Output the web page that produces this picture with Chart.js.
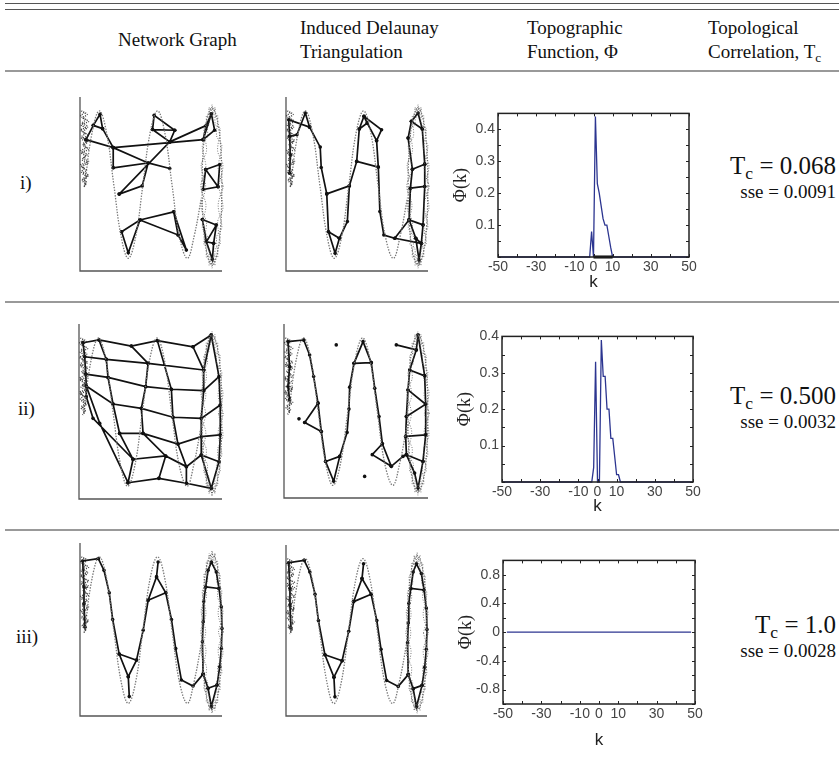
<!DOCTYPE html>
<html>
<head>
<meta charset="utf-8">
<script src="https://cdn.jsdelivr.net/npm/chart.js@4.4.1/dist/chart.umd.min.js"></script>
<style>
body { margin: 0; background: #fff; }
#page { position: relative; width: 839px; height: 757px; overflow: hidden;
        font-family: "Liberation Serif", "Times New Roman", serif; color: #111; }
.rule { position: absolute; left: 5px; right: 0; }
.t { position: absolute; font-size: 19px; line-height: 1; white-space: nowrap; }
.tc { position: absolute; right: 3px; line-height: 1; white-space: nowrap; text-align: right; }
.tc sub, .t sub { font-size: 70%; vertical-align: baseline; position: relative; top: 0.3em; }
canvas { position: absolute; }
</style>
</head>
<body>
<div id="page">
  <div class="rule" style="top:3px;height:1px;background:#555"></div>
  <div class="rule" style="top:9px;height:1px;background:#555"></div>
  <div class="rule" style="top:70px;height:2px;background:#999"></div>
  <div class="rule" style="top:301px;height:2px;background:#999"></div>
  <div class="rule" style="top:529px;height:2px;background:#999"></div>

  <div class="t" style="left:118px;top:30px">Network Graph</div>
  <div class="t" style="left:300px;top:18px">Induced Delaunay</div>
  <div class="t" style="left:300px;top:42px">Triangulation</div>
  <div class="t" style="left:527px;top:18px">Topographic</div>
  <div class="t" style="left:527px;top:42px">Function, Φ</div>
  <div class="t" style="left:708px;top:18px">Topological</div>
  <div class="t" style="left:708px;top:42px">Correlation, T<sub>c</sub></div>

  <div class="t" style="left:20px;top:173px">i)</div>
  <div class="t" style="left:18px;top:399px">ii)</div>
  <div class="t" style="left:16px;top:627px">iii)</div>

  <div class="tc" style="top:153px;font-size:25px">T<sub>c</sub> = 0.068</div>
  <div class="tc" style="top:182px;font-size:19px">sse = 0.0091</div>
  <div class="tc" style="top:383px;font-size:25px">T<sub>c</sub> = 0.500</div>
  <div class="tc" style="top:412px;font-size:19px">sse = 0.0032</div>
  <div class="tc" style="top:612px;font-size:25px">T<sub>c</sub> = 1.0</div>
  <div class="tc" style="top:641px;font-size:19px">sse = 0.0028</div>

  <canvas id="ng1"></canvas>
  <canvas id="dt1"></canvas>
  <canvas id="ng2"></canvas>
  <canvas id="dt2"></canvas>
  <canvas id="ng3"></canvas>
  <canvas id="dt3"></canvas>
  <canvas id="phi1"></canvas>
  <canvas id="phi2"></canvas>
  <canvas id="phi3"></canvas>
</div>

<script>
// topographic function Phi(k)
const k1 = [-50, -2, -1, 0, 1, 2, 3, 4, 5, 6, 7, 8, 9, 10, 50];
const phi1 = [0, 0, 0.08, 0, 0.44, 0.23, 0.2, 0.16, 0.12, 0.1, 0.1, 0.065, 0.03, 0, 0];
const base1K = [0, 10];
const base1 = [0, 0];
const k2 = [-50, -3, -2, -1, 0, 1, 2, 3, 4, 5, 6, 7, 8, 9, 10, 11, 12, 50];
const phi2 = [0, 0, 0.04, 0.33, 0, 0, 0.39, 0.29, 0.29, 0.2, 0.2, 0.12, 0.12, 0.07, 0.02, 0.02, 0, 0];
const k3 = [-48, 48];
const phi3 = [0, 0];

const kLabels = [-50, -30, -10, 0, 10, 30, 50];
const yLabels12 = [0.1, 0.2, 0.3, 0.4];
const yLabels3 = [-0.8, -0.4, 0, 0.4, 0.8];

// input data manifold (same in every panel), unit square 0..100
const sineTrack = [[3.3,49.6],[8.5,79.5],[13.6,92],[18.7,79.5],[23.8,49.6],[29,19.7],[34,7.3],[39.2,19.7],
  [44.3,49.6],[49.4,79.5],[54.6,92],[59.7,79.5],[64.8,49.6],[70,19.7],[75.6,7.3],[80.3,19.7],[85.5,42]];
const loopTrack = [[100,48.6],[99.1,71.1],[96.5,87.6],[93,93.6],[89.5,87.6],[86.9,71.1],[86,48.6],
  [86.9,26.1],[89.5,9.6],[93,3.6],[96.5,9.6],[99.1,26.1],[100,48.6]];
const leftNoiseA = [[1,92],[5,90],[2,88],[6,86],[0.8,84],[4.5,82],[2,80],[6,78],[1,76],[5,74],[2.5,72],[6,70],
  [1,68],[4,66],[1.5,64],[5.5,62],[1,60],[4.5,58],[2,56],[5,54],[1.5,52],[4,50],[2.5,48]];
const leftNoiseB = [[3,91],[0.5,89],[4,87],[1.5,85],[5.5,83],[0.5,81],[3.5,79],[1,77],[6,75],[2,73],[4.5,71],
  [0.5,69],[5,67],[2.5,65],[6,63],[0.5,61],[3,59],[1,57],[6,55],[2,53],[4.5,51],[3,49]];
const rightNoiseA = [[101,48.6],[97.3,59.2],[99.9,72.1],[96.2,77.6],[97,89.3],[94.2,88.2],[93,95.6],[91.8,88.2],
  [89,89.3],[89.8,77.6],[86.1,72.1],[88.7,59.2],[85,48.6],[88.7,38],[86.1,25.1],[89.8,19.6],[89,7.9],[91.8,9],
  [93,1.6],[94.2,9],[97,7.9],[96.2,19.6],[99.9,25.1],[97.3,38],[101,48.6]];
const rightNoiseB = [[97.5,48.6],[100.7,60.8],[96.9,69.1],[98.7,81.8],[95.3,84.1],[95.1,94],[93,89.6],[90.9,94],
  [90.7,84.1],[87.3,81.8],[89.1,69.1],[85.3,60.8],[88.5,48.6],[85.3,36.4],[89.1,28.1],[87.3,15.4],[90.7,13.1],
  [90.9,3.2],[93,7.6],[95.1,3.2],[95.3,13.1],[98.7,15.4],[96.9,28.1],[100.7,36.4],[97.5,48.6]];

// network edges, as polylines through the nodes
const ng1Paths = [
  [[4.2,75.5],[9.4,83.7],[14.1,90.1],[15.9,81.8],[9.4,83.7]],
  [[4.2,75.5],[23.4,70.9],[15.9,81.8]],
  [[23.4,70.9],[86.7,75.5],[89,83.7],[92.5,90.4],[86.7,75.5]],
  [[92.5,90.4],[94.8,80.9],[86.7,75.5]],
  [[23.4,59.3],[23.4,70.9],[48,62.1],[63.2,58.9]],
  [[23.4,59.3],[48,62.1],[43.8,48.9],[27.6,44.2]],
  [[27.6,44.2],[63.2,74.2],[66.7,80.9],[52.2,89.5],[51.1,81.3],[63.2,74.2]],
  [[51.1,81.3],[66.7,80.9]],
  [[63.2,74.2],[89,83.7]],
  [[88.5,58.3],[98.4,61.2],[97.2,48.4],[86.7,46.8],[88.5,58.3],[97.2,48.4]],
  [[86.2,29.6],[96,26.4],[94.1,15.9],[89,16.8],[86.2,29.6]],
  [[96,26.4],[89,16.8],[93.2,6.7],[94.1,15.9]],
  [[29.3,22.6],[42.2,29.3],[34,10.5],[29.3,22.6]],
  [[42.2,29.3],[66,34],[69.1,20.7],[42.2,29.3]],
  [[66,34],[74.9,12],[69.1,20.7]]
];
const dt1Paths = [
  [[2.6,56.2],[3,66.8],[2.6,77.4],[1.9,86.9],[16.6,82.7]],
  [[2.6,77.4],[7.7,78.3],[13.6,90.8],[16.6,82.7]],
  [[16.6,82.7],[24.1,71.2],[24.8,59.5],[28.7,44.3],[29.9,22.6],[34.6,10.2],[37.6,18.8],[43.2,28.4],
   [44.6,48.9],[49.8,63],[51.6,81.6],[54.9,88.9],[67.3,81.2],[63.8,74.9],[65,59.7],[66.1,34.2],
   [68.9,20.7],[76.6,18.8],[86.7,29.4]],
  [[51.6,81.6],[57.2,85],[63.8,74.9]],
  [[54.9,88.9],[57.2,85]],
  [[28.7,44.3],[44.6,48.9]],
  [[29.9,22.6],[37.6,18.8]],
  [[49.8,63],[65,59.7]],
  [[86,76.4],[89,58.5],[87.6,47.6],[86.7,29.4],[91.4,18.8],[93.7,6.3],[95.3,15.9],[96.5,26.5],
   [97.7,48.6],[97.7,61.4],[96,81.6],[93,90.8],[88.3,86],[86,76.4]],
  [[88.3,86],[96,81.6]],
  [[89,58.5],[97.7,61.4]],
  [[87.6,47.6],[97.7,48.6]],
  [[86.7,29.4],[96.5,26.5]],
  [[91.4,18.8],[95.3,15.9]],
  [[76.6,18.8],[95.3,15.9]]
];
const ng2Paths = [
  [[2.8,89.3],[14,90.9],[36.6,87.4],[54.8,90.5],[79.7,87],[92.5,93.7]],
  [[4,81.3],[19.1,79.8],[48.3,77.5],[87.2,73.7]],
  [[4.7,71.4],[20.3,69.5],[46.6,64.2],[64.6,62.7],[87.2,61.9],[97.9,69.9]],
  [[5.1,64.6],[23.8,54.3],[43.6,51.8],[65.7,46.7],[85.5,46.1],[98.8,53.7]],
  [[28.4,37.5],[44.8,37.5],[69.2,31.4],[85.5,35.6],[98.8,36.6]],
  [[37.8,22.7],[60.6,24.6],[75.1,18.5],[85.5,25.1],[97.9,21.3]],
  [[34.3,9.3],[55.9,11.8],[75.1,9],[92.5,6.1]],
  [[14,90.9],[19.1,79.8],[20.3,69.5],[23.8,54.3],[28.4,37.5],[37.8,22.7],[34.3,9.3]],
  [[36.6,87.4],[48.3,77.5],[46.6,64.2],[43.6,51.8],[44.8,37.5],[60.6,24.6],[55.9,11.8]],
  [[54.8,90.5],[64.6,62.7],[65.7,46.7],[69.2,31.4],[75.1,18.5],[75.1,9]],
  [[79.7,87],[87.2,73.7],[87.2,61.9],[85.5,46.1],[85.5,35.6],[85.5,25.1],[92.5,6.1]],
  [[92.5,93.7],[97.9,69.9],[98.8,53.7],[98.8,36.6],[97.9,21.3],[92.5,6.1]],
  [[87.2,73.7],[92.5,93.7]],
  [[2.8,89.3],[4,81.3],[4.7,71.4],[5.1,64.6],[5.1,58.5],[9.8,46.1],[37.8,22.7]],
  [[5.1,64.6],[14.5,43.2],[34.3,9.3]]
];
const dt2Paths = [
  [[3.9,56.4],[2.8,64.1],[3.9,75.5],[2.8,89.9],[13.7,90.8]],
  [[13.7,90.8],[17.8,82.2],[20.6,69.8],[23.6,54.5],[25.9,38.2],[28.9,21],[34.5,9.6],[38.7,23.9],
   [43.8,37.7],[45.1,51.1],[45.6,63.7],[48.6,77.4],[54.9,89.9],[60.6,77.8],[63,63.1],[66,46.8],
   [68.3,31.2],[74.5,18.2],[82.6,23.9],[85,24.9]],
  [[14.4,43.4],[23.6,54.5]],
  [[14.4,43.4],[25.9,38.2]],
  [[28.9,21],[38.7,23.9]],
  [[48.6,77.4],[60.6,77.8]],
  [[68.3,31.2],[61.3,24.9],[74.5,18.2]],
  [[78,88],[91.9,85.1]],
  [[93.1,93.7],[91.9,85.1],[87.3,73.6],[86.1,62.1],[85,46.8],[84.5,35.4],[85,24.9],[90.7,14.3],
   [93.1,5.7],[96.5,21],[98.4,36.3],[98.4,53.9],[97.7,70.2],[93.1,93.7]],
  [[87.3,73.6],[97.7,70.2]],
  [[86.1,62.1],[98.4,53.9],[85,46.8]],
  [[84.5,35.4],[98.4,36.3]],
  [[85,24.9],[96.5,21]],
  [[10.4,45.5]],
  [[36.3,88]],
  [[56,12.4]]
];
const ng3Paths = [
  [[3.5,51.5],[2.8,65],[2.8,74.6],[1.9,89.6],[12.9,91]],
  [[12.9,91],[16.9,84.2],[20.6,71.2],[23,55.8],[27.6,35.8],[34,22.7],[34.7,11.2]],
  [[27.6,35.8],[39.8,32.3],[34,22.7]],
  [[39.8,32.3],[44.5,49.6],[48,66.9],[53.9,80.4],[55,89]],
  [[48,66.9],[60.4,71.2]],
  [[53.9,80.4],[60.4,71.2],[64.4,55.8],[67.4,39],[71.4,20.8],[79.6,17.3],[86.7,24.2]],
  [[86.7,24.2],[86.2,42.9],[86.7,54.4],[87.1,66],[88.5,74.6],[90.2,84.2],[92.5,89],[96,83.3],
   [97.9,73.7],[99.5,63.1],[100,50.6],[99.5,39],[98.4,28.5],[96.5,17.9],[92.5,5.4],[90.2,16],[86.7,24.2]],
  [[88.5,74.6],[97.9,73.7]],
  [[90.2,16],[96.5,17.9]]
];
const dt3Paths = ng3Paths;

function pathData(paths) {
  const out = [];
  paths.forEach((p, i) => {
    if (i) out.push({x: null, y: null});
    p.forEach(pt => out.push({x: pt[0], y: pt[1]}));
  });
  return out;
}

function place(canvas, left, top, w, h) {
  canvas.width = w;
  canvas.height = h;
  canvas.style.left = left + 'px';
  canvas.style.top = top + 'px';
  canvas.style.width = w + 'px';
  canvas.style.height = h + 'px';
}

const cornerAxes = {
  id: 'cornerAxes',
  beforeDatasetsDraw(chart) {
    const {ctx, chartArea: a} = chart;
    ctx.save();
    ctx.strokeStyle = '#555';
    ctx.lineWidth = 1.3;
    ctx.beginPath();
    ctx.moveTo(a.left, a.top);
    ctx.lineTo(a.left, a.bottom);
    ctx.lineTo(a.right, a.bottom);
    ctx.stroke();
    ctx.restore();
  }
};

function netChart(id, L, T, R, B, paths) {
  const cv = document.getElementById(id);
  place(cv, L - 4, T - 6, R - L + 12, B - T + 10);
  new Chart(cv, {
    type: 'scatter',
    data: {
      datasets: [
        { data: pathData([leftNoiseA, leftNoiseB]), showLine: true,
          borderColor: 'rgba(40,40,40,0.9)', borderWidth: 1.4, borderDash: [1, 1.1],
          pointRadius: 0, tension: 0.3, clip: false },
        { data: pathData([rightNoiseA, rightNoiseB]), showLine: true,
          borderColor: 'rgba(80,80,80,0.75)', borderWidth: 1, borderDash: [1, 1.6],
          pointRadius: 0, tension: 0.3, clip: false },
        { data: pathData([sineTrack, loopTrack]), showLine: true, borderColor: '#777',
          borderWidth: 1.3, borderDash: [1.4, 1.4], pointRadius: 0, tension: 0.4, clip: false },
        { data: pathData(paths), showLine: true, borderColor: '#111', borderWidth: 1.7,
          pointRadius: 1.8, pointBackgroundColor: '#111', pointBorderWidth: 0, clip: false }
      ]
    },
    options: {
      responsive: false, animation: false, events: [],
      layout: { padding: { left: 4, top: 6, right: 8, bottom: 4 } },
      plugins: { legend: { display: false }, tooltip: { enabled: false } },
      scales: {
        x: { type: 'linear', min: 0, max: 100, display: false },
        y: { type: 'linear', min: 0, max: 100, display: false }
      }
    },
    plugins: [cornerAxes]
  });
}

const frameTicks = {
  id: 'frameTicks',
  afterDatasetsDraw(chart) {
    const {ctx, chartArea: a} = chart;
    const xs = chart.scales.x, ys = chart.scales.y;
    ctx.save();
    ctx.strokeStyle = '#222';
    ctx.lineWidth = 1;
    ctx.beginPath();
    xs.ticks.forEach(t => {
      const px = Math.round(xs.getPixelForValue(t.value)) + 0.5;
      ctx.moveTo(px, a.bottom); ctx.lineTo(px, a.bottom - 3);
      ctx.moveTo(px, a.top); ctx.lineTo(px, a.top + 3);
    });
    ys.ticks.forEach(t => {
      const py = Math.round(ys.getPixelForValue(t.value)) + 0.5;
      ctx.moveTo(a.left, py); ctx.lineTo(a.left + 3, py);
      ctx.moveTo(a.right, py); ctx.lineTo(a.right - 3, py);
    });
    ctx.stroke();
    ctx.lineWidth = 1.5;
    ctx.strokeRect(a.left, a.top, a.right - a.left, a.bottom - a.top);
    ctx.restore();
  }
};

function near(list, v) {
  return list.some(u => Math.abs(u - v) < 1e-6);
}

function phiChart(id, box, plot, series, yMin, yMax, yStep, yShown) {
  const cv = document.getElementById(id);
  place(cv, box.left, box.top, box.w, box.h);
  new Chart(cv, {
    type: 'scatter',
    data: {
      datasets: series.map(s => ({
        data: s.k.map((v, i) => ({x: v, y: s.v[i]})),
        showLine: true, borderColor: s.color, borderWidth: s.width,
        pointRadius: 0, tension: 0, clip: false
      }))
    },
    options: {
      responsive: false, animation: false, events: [],
      layout: { padding: { left: 0, top: plot.top - box.top, right: box.left + box.w - plot.right, bottom: 0 } },
      plugins: { legend: { display: false }, tooltip: { enabled: false } },
      scales: {
        x: {
          type: 'linear', min: -50, max: 50,
          grid: { display: false, drawTicks: false }, border: { display: false },
          afterFit: sc => { sc.height = box.top + box.h - plot.bottom; },
          ticks: { stepSize: 10, padding: 2, maxRotation: 0, autoSkip: false, color: '#444',
                   font: { family: 'Liberation Sans', size: 14 },
                   callback: v => near(kLabels, v) ? String(v) : '' },
          title: { display: true, text: 'k', color: '#222', padding: { top: 0, bottom: 0 },
                   font: { family: 'Liberation Sans', size: 17 } }
        },
        y: {
          type: 'linear', min: yMin, max: yMax,
          grid: { display: false, drawTicks: false }, border: { display: false },
          afterFit: sc => { sc.width = plot.left - box.left; },
          ticks: { stepSize: yStep, padding: 3, autoSkip: false, color: '#444',
                   font: { family: 'Liberation Sans', size: 14 },
                   callback: v => near(yShown, v) ? String(Math.round(v * 10) / 10) : '' },
          title: { display: true, text: 'Φ(k)', color: '#222', padding: { top: 4, bottom: 0 },
                   font: { family: 'Liberation Serif', size: 18 } }
        }
      }
    },
    plugins: [frameTicks]
  });
}

netChart('ng1', 80, 97, 222, 271, ng1Paths);
netChart('dt1', 286, 97, 428, 271, dt1Paths);
netChart('ng2', 79, 324, 222, 499, ng2Paths);
netChart('dt2', 284, 324, 428, 498, dt2Paths);
netChart('ng3', 80, 543, 222, 716, ng3Paths);
netChart('dt3', 286, 545, 427, 716, dt3Paths);

const blue = '#2c3590';
phiChart('phi1', {left: 446, top: 102, w: 254, h: 191}, {left: 498, top: 112, right: 689, bottom: 257},
  [{k: base1K, v: base1, color: '#000', width: 3}, {k: k1, v: phi1, color: blue, width: 1.3}],
  0, 0.45, 0.05, yLabels12);
phiChart('phi2', {left: 450, top: 325, w: 254, h: 192}, {left: 502, top: 336, right: 693, bottom: 482},
  [{k: k2, v: phi2, color: blue, width: 1.3}],
  0, 0.4, 0.05, yLabels12);
phiChart('phi3', {left: 451, top: 549, w: 254, h: 202}, {left: 503, top: 559, right: 695, bottom: 704},
  [{k: k3, v: phi3, color: blue, width: 1.3}],
  -1, 1, 0.2, yLabels3);
</script>
</body>
</html>
